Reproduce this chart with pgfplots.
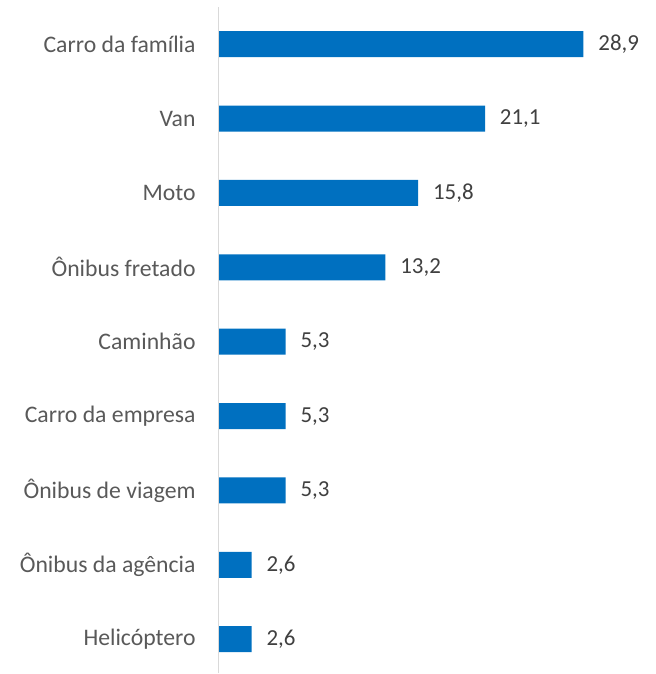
\documentclass[border=0pt]{standalone}
\usepackage{fontspec}
\setmainfont{Carlito}
\usepackage{pgfplots}
\pgfplotsset{compat=1.18}
\definecolor{barblue}{HTML}{0070C0}
\definecolor{labgray}{HTML}{595959}
\definecolor{valgray}{HTML}{404040}
\definecolor{axgray}{HTML}{D9D9D9}

\begin{document}
\begin{tikzpicture}
% fix the page to the reference's proportions (1px = 0.75pt)
\path (-164.25pt,0pt) rectangle (327.75pt,505.5pt);
\begin{axis}[
    at={(0pt,0pt)}, anchor=south west,
    xbar,
    bar width=19.5pt,
    scale only axis,
    width=273.75pt,
    height=500.25pt,
    xmin=0, xmax=28.9,
    ymin=-0.46, ymax=8.5,
    hide x axis,
    axis y line*=left,
    y axis line style={draw=none},
    ytick={0,...,8},
    yticklabels={Helicóptero,Ônibus da agência,Ônibus de viagem,Carro da empresa,Caminhão,Ônibus fretado,Moto,Van,Carro da família},
    major tick length=0pt,
    yticklabel style={font=\fontsize{17.8}{19}\selectfont, text=labgray, anchor=east, inner sep=0pt, xshift=-17.25pt},
    clip=false,
    nodes near coords,
    nodes near coords align=horizontal,
    every node near coord/.append style={font=\fontsize{17.2}{19}\selectfont, text=valgray, anchor=west, inner sep=0pt, xshift=11pt,
        /pgf/number format/.cd, use comma, fixed, fixed zerofill, precision=1, assume math mode=true},
]
\addplot[fill=barblue, draw=none] coordinates {
    (2.6,0) (2.6,1) (5.3,2) (5.3,3) (5.3,4) (13.2,5) (15.8,6) (21.1,7) (28.9,8)
};
\draw[axgray, line width=0.9pt] (rel axis cs:0,0) -- (rel axis cs:0,1);
\end{axis}
\end{tikzpicture}
\end{document}
